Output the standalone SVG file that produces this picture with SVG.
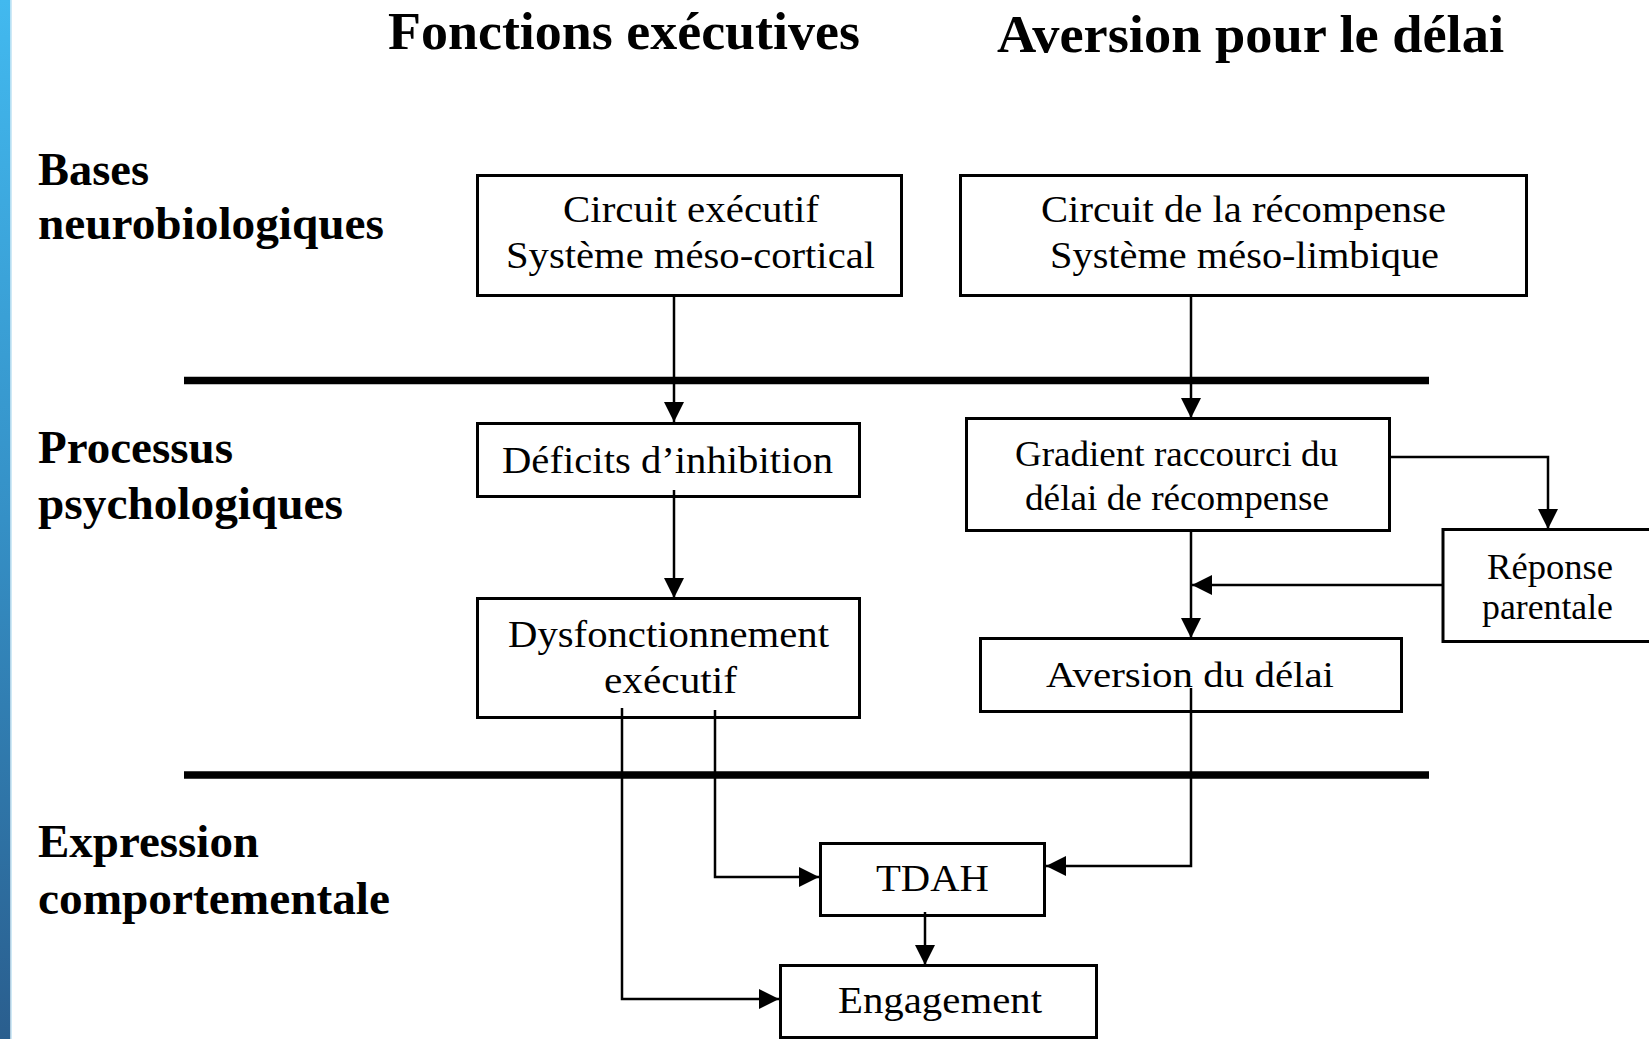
<svg xmlns="http://www.w3.org/2000/svg" width="1649" height="1039" viewBox="0 0 1649 1039">
<defs>
<linearGradient id="bar" x1="0" y1="0" x2="0" y2="1">
<stop offset="0" stop-color="#42b9ef"/>
<stop offset="0.5" stop-color="#3590c6"/>
<stop offset="1" stop-color="#2a5e8e"/>
</linearGradient>
<marker id="ah" markerUnits="userSpaceOnUse" markerWidth="20" markerHeight="20" refX="20" refY="10" orient="auto">
<path d="M0,0 L20,10 L0,20 z" fill="#000"/>
</marker>
<style>
.box{fill:#fff;stroke:#000;stroke-width:3}
.t{font-family:"Times New Roman","Liberation Serif",Times,serif;font-size:38px;fill:#000}
.s{font-size:35px}
.b{font-family:"Times New Roman","Liberation Serif",Times,serif;font-weight:bold;font-size:46px;fill:#000}
.h{font-size:53px}
.c{fill:none;stroke:#000;stroke-width:2.5;marker-end:url(#ah)}
.sep{stroke:#000;stroke-width:7.5}
</style>
</defs>
<rect width="1649" height="1039" fill="#fff"/>
<rect x="0" y="0" width="10.5" height="1039" fill="url(#bar)"/>
<rect x="10.5" y="0" width="1.5" height="1039" fill="#cfe9f6"/>

<g id="titles">
<text class="b h" x="388" y="49" textLength="472" lengthAdjust="spacingAndGlyphs">Fonctions exécutives</text>
<text class="b h" x="997" y="52" textLength="507" lengthAdjust="spacingAndGlyphs">Aversion pour le délai</text>
</g>
<g id="row-labels">
<text class="b" x="38" y="185" textLength="111" lengthAdjust="spacingAndGlyphs">Bases</text>
<text class="b" x="38" y="239" textLength="346" lengthAdjust="spacingAndGlyphs">neurobiologiques</text>
<text class="b" x="38" y="463" textLength="195" lengthAdjust="spacingAndGlyphs">Processus</text>
<text class="b" x="38" y="519" textLength="305" lengthAdjust="spacingAndGlyphs">psychologiques</text>
<text class="b" x="38" y="857" textLength="221" lengthAdjust="spacingAndGlyphs">Expression</text>
<text class="b" x="38" y="914" textLength="352" lengthAdjust="spacingAndGlyphs">comportementale</text>
</g>
<g id="separators">
<line class="sep" x1="184" y1="380.5" x2="1429" y2="380.5"/>
<line class="sep" x1="184" y1="775" x2="1429" y2="775"/>
</g>

<g id="n-circuit-executif">
<rect class="box" x="477.5" y="175.5" width="424" height="120"/>
<text class="t" x="563" y="222" textLength="256" lengthAdjust="spacingAndGlyphs">Circuit exécutif</text>
<text class="t" x="506" y="268" textLength="369" lengthAdjust="spacingAndGlyphs">Système méso-cortical</text>
</g>
<g id="n-circuit-recompense">
<rect class="box" x="960.5" y="175.5" width="566" height="120"/>
<text class="t" x="1041" y="222" textLength="405" lengthAdjust="spacingAndGlyphs">Circuit de la récompense</text>
<text class="t" x="1050" y="268" textLength="389" lengthAdjust="spacingAndGlyphs">Système méso-limbique</text>
</g>
<g id="n-deficits">
<rect class="box" x="477.5" y="423.5" width="382" height="73"/>
<text class="t" x="502" y="473" textLength="331" lengthAdjust="spacingAndGlyphs">Déficits d’inhibition</text>
</g>
<g id="n-gradient">
<rect class="box" x="966.5" y="418.5" width="423" height="112"/>
<text class="t s" x="1015" y="466" textLength="323" lengthAdjust="spacingAndGlyphs">Gradient raccourci du</text>
<text class="t s" x="1025" y="510" textLength="304" lengthAdjust="spacingAndGlyphs">délai de récompense</text>
</g>
<g id="n-reponse">
<rect class="box" x="1443" y="529.5" width="220" height="112"/>
<text class="t s" x="1487" y="579" textLength="126" lengthAdjust="spacingAndGlyphs">Réponse</text>
<text class="t s" x="1482" y="619" textLength="131" lengthAdjust="spacingAndGlyphs">parentale</text>
</g>
<g id="n-dysfonctionnement">
<rect class="box" x="477.5" y="598.5" width="382" height="119"/>
<text class="t" x="508" y="647" textLength="321" lengthAdjust="spacingAndGlyphs">Dysfonctionnement</text>
<text class="t" x="604" y="693" textLength="133" lengthAdjust="spacingAndGlyphs">exécutif</text>
</g>
<g id="n-aversion">
<rect class="box" x="980.5" y="638.5" width="421" height="73"/>
<text class="t s" x="1046" y="687" textLength="288" lengthAdjust="spacingAndGlyphs">Aversion du délai</text>
</g>
<g id="n-tdah">
<rect class="box" x="820.5" y="843.5" width="224" height="72"/>
<text class="t" x="876" y="891" textLength="113" lengthAdjust="spacingAndGlyphs">TDAH</text>
</g>
<g id="n-engagement">
<rect class="box" x="780.5" y="965.5" width="316" height="72"/>
<text class="t" x="838" y="1013" textLength="204" lengthAdjust="spacingAndGlyphs">Engagement</text>
</g>

<g id="connectors">
<path class="c" d="M674,296 V422"/>
<path class="c" d="M1191,296 V418"/>
<path class="c" d="M1390,457 H1548 V529"/>
<path class="c" d="M1443,585 H1192"/>
<path class="c" d="M1191,531 V638"/>
<path class="c" d="M674,490 V598"/>
<path class="c" d="M1191,688 V866 H1046"/>
<path class="c" d="M715,710 V877 H819"/>
<path class="c" d="M622,708 V999 H779"/>
<path class="c" d="M925,912 V965"/>
</g>
</svg>
